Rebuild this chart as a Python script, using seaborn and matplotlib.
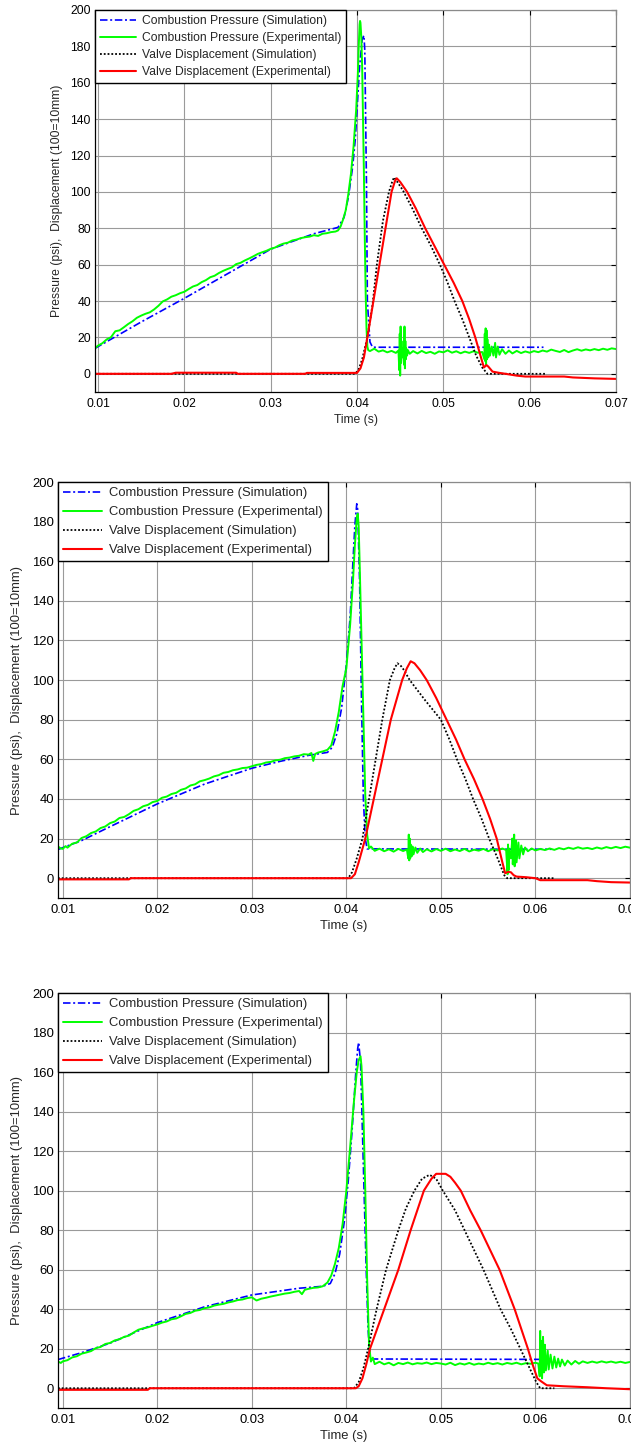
import matplotlib
matplotlib.use("Agg")
import matplotlib.pyplot as plt
import seaborn as sns

# ---------------------------------------------------------------------------
# Run 1
# ---------------------------------------------------------------------------
cp_sim_t1 = [0.00965, 0.0150, 0.0200, 0.0250, 0.0300, 0.0350, 0.0378, 0.0385, 0.0390, 0.0395,
             0.0398, 0.0400, 0.0403, 0.0406, 0.0408, 0.0409, 0.0411, 0.0412, 0.0415, 0.0418, 0.0616]
cp_sim1 = [14.0, 28.5, 41.5, 55.0, 68.5, 77.0, 80.5, 86.0, 97.0, 114.0,
           129.0, 145.0, 169.0, 184.0, 186.0, 178.0, 103.0, 40.0, 17.5, 14.6, 14.6]

cp_exp_t1 = [0.0097, 0.0100, 0.0105, 0.0110, 0.0115, 0.0120, 0.0125, 0.0130, 0.0135, 0.0140,
             0.0145, 0.0150, 0.0155, 0.0160, 0.0165, 0.0170, 0.0175, 0.0180, 0.0185, 0.0190,
             0.0195, 0.0200, 0.0205, 0.0210, 0.0215, 0.0220, 0.0225, 0.0230, 0.0235, 0.0240,
             0.0245, 0.0250, 0.0255, 0.0260, 0.0265, 0.0270, 0.0275, 0.0280, 0.0285, 0.0290,
             0.0295, 0.0300, 0.0305, 0.0310, 0.0315, 0.0320, 0.0325, 0.0330, 0.0335, 0.0340,
             0.0345, 0.0350, 0.0355, 0.0360, 0.0365, 0.0370, 0.0375, 0.0378,
             0.0381, 0.0384, 0.0387, 0.0390, 0.0393, 0.0396, 0.0399, 0.0401, 0.0402, 0.0403,
             0.04035, 0.0404, 0.0405, 0.0406, 0.0407, 0.0408, 0.0409, 0.0410, 0.0411, 0.0412,
             0.0413, 0.0415, 0.0420, 0.0425, 0.0430, 0.0435, 0.0440, 0.0445, 0.0448,
             0.04490, 0.04495, 0.04500, 0.04505, 0.04510, 0.04515, 0.04520, 0.04530,
             0.04545, 0.04550, 0.04555, 0.04560, 0.04565, 0.04570, 0.04580, 0.04590, 0.04610,
             0.0465, 0.0470, 0.0475, 0.0480, 0.0485, 0.0490, 0.0495, 0.0500, 0.0505, 0.0510,
             0.0515, 0.0520, 0.0525, 0.0530, 0.0535, 0.0540, 0.0545,
             0.05475, 0.05480, 0.05485, 0.05490, 0.05495, 0.05500, 0.05505, 0.05510, 0.05520,
             0.05530, 0.05540, 0.05560, 0.05580, 0.05600, 0.05610, 0.05630, 0.05650, 0.05680,
             0.0572, 0.0576, 0.0580, 0.0585, 0.0590, 0.0595, 0.0600, 0.0605, 0.0610, 0.0615,
             0.0620, 0.0625, 0.0630, 0.0635, 0.0640, 0.0645, 0.0650, 0.0655, 0.0660, 0.0665,
             0.0670, 0.0675, 0.0680, 0.0685, 0.0690, 0.0695, 0.0700]
cp_exp1 = [14.3, 15.5, 16.8, 18.9, 20.1, 23.4, 23.9, 25.6, 27.4, 28.9,
           30.8, 32.0, 33.0, 33.8, 35.4, 37.4, 39.8, 40.9, 42.4, 43.2,
           44.3, 45.1, 46.6, 48.0, 48.8, 50.4, 51.5, 53.1, 53.9, 55.4,
           56.6, 57.6, 58.5, 60.3, 61.0, 62.3, 63.4, 64.6, 65.9, 66.8,
           67.6, 68.7, 69.4, 70.7, 71.6, 72.1, 73.3, 73.8, 74.6, 75.1,
           75.4, 76.2, 75.8, 77.0, 77.3, 77.9, 78.2, 78.8,
           81.0, 85.0, 90.0, 99.0, 110.0, 125.0, 145.0, 165.0, 180.0, 192.0,
           194.0, 193.0, 185.0, 168.0, 140.0, 110.0, 75.0, 45.0, 25.0, 15.0,
           13.0, 12.5, 13.8, 12.2, 12.9, 11.8, 12.6, 11.5, 12.8,
           2.0, 22.0, -1.0, 26.0, 6.0, 18.0, 9.0, 14.0,
           5.0, 26.0, 3.0, 18.0, 8.0, 14.0, 10.0, 13.0, 11.0,
           12.5, 11.2, 12.6, 11.4, 12.1, 11.0, 12.3, 11.8, 12.9, 11.6,
           12.4, 11.3, 12.2, 11.5, 12.4, 11.6, 12.0,
           8.0, 22.0, 7.0, 25.0, 5.0, 24.0, 8.0, 19.0, 9.0,
           16.0, 10.0, 15.0, 10.0, 17.0, 9.0, 15.0, 10.5, 13.5,
           11.0, 12.8, 11.2, 12.6, 11.4, 12.3, 11.6, 12.5, 11.9, 12.8,
           12.2, 13.3, 12.6, 12.0, 13.1, 11.9, 12.8, 13.5, 12.7, 13.4,
           12.9, 13.6, 13.0, 13.8, 13.2, 14.0, 13.6]

vd_sim_t1 = [0.00965, 0.0398, 0.0402, 0.0406, 0.0412, 0.0418, 0.0423, 0.0430, 0.0437, 0.0441,
             0.0443, 0.0446, 0.0453, 0.0464, 0.0475, 0.0486, 0.0496, 0.0505, 0.0513, 0.0522,
             0.0530, 0.0538, 0.0545, 0.0551, 0.0620]
vd_sim1 = [0.0, 0.0, 2.5, 8.0, 20.0, 38.0, 60.0, 84.0, 100.0, 106.0,
           108.0, 106.0, 101.0, 91.0, 80.0, 70.0, 60.0, 50.0, 40.0, 30.0,
           20.0, 10.0, 3.5, 0.0, 0.0]

vd_exp_t1 = [0.00965, 0.0185, 0.0190, 0.0260, 0.0262, 0.0340, 0.0342, 0.0400, 0.0404, 0.0408,
             0.0412, 0.0419, 0.0426, 0.0433, 0.0440, 0.0444, 0.0446, 0.0450, 0.0458, 0.0468,
             0.0479, 0.0490, 0.0501, 0.0512, 0.0522, 0.0530, 0.0537, 0.0543, 0.0547, 0.0550,
             0.0552, 0.0557, 0.0565, 0.0572, 0.0585, 0.0595, 0.0640, 0.0650, 0.0675, 0.0700]
vd_exp1 = [0.0, 0.0, 0.6, 0.6, 0.0, 0.0, 0.5, 0.5, 3.0, 9.0,
           20.0, 40.0, 60.0, 80.0, 100.0, 106.0, 107.5, 105.5, 100.0, 91.0,
           80.0, 70.0, 60.0, 50.0, 40.0, 30.0, 20.0, 10.0, 3.5, 4.8,
           4.0, 1.2, 0.5, 0.0, -1.0, -1.5, -1.5, -2.0, -2.5, -2.8]

# ---------------------------------------------------------------------------
# Run 2
# ---------------------------------------------------------------------------
cp_sim_t2 = [0.0095, 0.0120, 0.0150, 0.0200, 0.0250, 0.0300, 0.0330, 0.0360, 0.0380, 0.0385,
             0.0390, 0.0395, 0.0400, 0.0404, 0.0407, 0.0409, 0.0411, 0.0412, 0.0414, 0.0416,
             0.0418, 0.0420, 0.0422, 0.0617]
cp_sim2 = [14.5, 19.0, 26.0, 37.5, 47.5, 55.5, 59.0, 62.0, 63.5, 66.0,
           73.0, 86.0, 108.0, 132.0, 160.0, 178.0, 189.0, 186.0, 150.0, 90.0,
           40.0, 20.0, 14.8, 14.6]

cp_exp_t2 = [0.0095, 0.0098, 0.0100, 0.0103, 0.0105, 0.0110, 0.0115, 0.0120, 0.0125, 0.0130,
             0.0135, 0.0140, 0.0145, 0.0150, 0.0155, 0.0160, 0.0165, 0.0170, 0.0175, 0.0180,
             0.0185, 0.0190, 0.0195, 0.0200, 0.0205, 0.0210, 0.0215, 0.0220, 0.0225, 0.0230,
             0.0235, 0.0240, 0.0245, 0.0250, 0.0255, 0.0260, 0.0265, 0.0270, 0.0275, 0.0280,
             0.0285, 0.0290, 0.0295, 0.0300, 0.0305, 0.0310, 0.0315, 0.0320, 0.0325, 0.0330,
             0.0335, 0.0340, 0.0345, 0.0350, 0.0355, 0.0360, 0.0363, 0.0365, 0.0367, 0.0370,
             0.0375, 0.0380, 0.0384, 0.0388, 0.0392, 0.0396, 0.0400, 0.0404, 0.0407, 0.0409,
             0.0411, 0.0412, 0.0413, 0.0414, 0.0416, 0.0418, 0.0420, 0.0422, 0.0424,
             0.0426, 0.0430, 0.0435, 0.0440, 0.0445, 0.0450, 0.0455, 0.0460, 0.0464,
             0.04655, 0.04660, 0.04665, 0.04670, 0.04675, 0.04680, 0.04690, 0.04700, 0.04710,
             0.0473, 0.0475, 0.0478, 0.0481, 0.0485, 0.0490, 0.0495, 0.0500, 0.0505, 0.0510,
             0.0515, 0.0520, 0.0525, 0.0530, 0.0535, 0.0540, 0.0545, 0.0550, 0.0555, 0.0560,
             0.0565, 0.0569,
             0.05705, 0.05710, 0.05715, 0.05720, 0.05740, 0.05755, 0.05760, 0.05775, 0.05780,
             0.05795, 0.05800, 0.05820, 0.05830, 0.05850, 0.05870, 0.05890, 0.05920, 0.05960,
             0.0600, 0.0605, 0.0610, 0.0615, 0.0620, 0.0625, 0.0630, 0.0635, 0.0640, 0.0645,
             0.0650, 0.0655, 0.0660, 0.0665, 0.0670, 0.0675, 0.0680, 0.0685, 0.0690, 0.0695,
             0.0700]
cp_exp2 = [16.0, 15.0, 14.8, 16.2, 15.4, 17.4, 18.0, 20.3, 21.2, 22.8,
           23.6, 25.3, 26.1, 27.8, 28.6, 30.4, 30.9, 32.3, 34.0, 34.8,
           36.3, 37.0, 38.4, 39.0, 40.6, 41.2, 42.5, 43.1, 44.6, 45.3,
           46.8, 47.4, 48.9, 49.5, 50.3, 51.4, 52.0, 53.2, 53.6, 54.5,
           54.9, 55.6, 55.8, 56.5, 57.2, 57.6, 58.4, 58.7, 59.5, 59.8,
           60.6, 60.9, 61.5, 61.8, 62.6, 62.4, 63.2, 59.2, 62.7, 63.4,
           64.0, 64.8, 67.0, 74.0, 84.0, 97.0, 106.0, 128.0, 150.0, 168.0,
           182.0, 184.0, 178.0, 160.0, 120.0, 80.0, 42.0, 22.0, 15.0,
           16.0, 13.8, 14.9, 13.6, 14.6, 13.4, 14.8, 13.7, 14.5,
           10.0, 22.0, 9.0, 20.0, 10.0, 17.0, 11.0, 16.0, 12.0,
           15.5, 12.8, 15.0, 13.2, 14.6, 13.5, 14.7, 13.8, 14.9, 13.6,
           14.5, 13.7, 14.8, 13.5, 14.4, 13.9, 14.8, 13.6, 14.7, 14.0,
           15.0, 14.2,
           2.0, 17.0, 4.0, 15.0, 10.0, 20.0, 7.0, 22.0, 6.0,
           19.0, 8.0, 18.0, 10.0, 16.5, 12.0, 15.5, 13.6, 15.0,
           14.0, 14.8, 14.2, 15.0, 14.3, 15.2, 14.6, 15.4, 14.8, 15.6,
           14.9, 15.3, 14.7, 15.5, 14.9, 15.7, 15.1, 15.8, 15.2, 15.9,
           15.4]

vd_sim_t2 = [0.0095, 0.0402, 0.0406, 0.0411, 0.0417, 0.0424, 0.0431, 0.0438, 0.0446, 0.0451,
             0.0454, 0.0458, 0.0461, 0.0467, 0.0483, 0.0500, 0.0509, 0.0517, 0.0526, 0.0534,
             0.0543, 0.0551, 0.0560, 0.0567, 0.0570, 0.0620]
vd_sim2 = [0.0, 0.0, 3.0, 10.0, 20.0, 40.0, 60.0, 80.0, 100.0, 106.0,
           108.5, 107.0, 105.0, 100.0, 90.0, 80.0, 70.0, 60.0, 50.0, 40.0,
           30.0, 20.0, 10.0, 1.5, 0.0, 0.0]

vd_exp_t2 = [0.0095, 0.0170, 0.0172, 0.0405, 0.0409, 0.0413, 0.0420, 0.0429, 0.0438, 0.0447,
             0.0459, 0.0464, 0.0468, 0.0472, 0.0478, 0.0485, 0.0495, 0.0506, 0.0516, 0.0525,
             0.0535, 0.0544, 0.0552, 0.0559, 0.0565, 0.0568, 0.0571, 0.0574, 0.0577, 0.0580,
             0.0590, 0.0600, 0.0605, 0.0655, 0.0665, 0.0680, 0.0700]
vd_exp2 = [-0.6, -0.6, 0.0, 0.0, 2.0, 8.0, 20.0, 40.0, 60.0, 80.0,
           100.0, 106.0, 109.5, 108.5, 105.0, 100.0, 91.0, 80.0, 70.0, 60.0,
           50.0, 40.0, 30.0, 20.0, 8.0, 2.5, 3.2, 3.0, 1.5, 0.8,
           0.5, 0.0, -1.0, -1.0, -1.5, -2.0, -2.2]

# ---------------------------------------------------------------------------
# Run 3
# ---------------------------------------------------------------------------
cp_sim_t3 = [0.0095, 0.0120, 0.0150, 0.0200, 0.0250, 0.0300, 0.0350, 0.0375, 0.0383, 0.0388,
             0.0393, 0.0398, 0.0402, 0.0406, 0.0410, 0.0412, 0.0413, 0.0415, 0.0417, 0.0419,
             0.0421, 0.0423, 0.0425, 0.0604]
cp_sim3 = [14.5, 18.0, 22.8, 33.2, 41.2, 47.2, 50.6, 51.6, 53.0, 58.0,
           68.0, 85.0, 105.0, 130.0, 160.0, 172.0, 175.0, 165.0, 130.0, 95.0,
           60.0, 30.0, 14.8, 14.6]

cp_exp_t3 = [0.0095, 0.0098, 0.0100, 0.0105, 0.0110, 0.0115, 0.0120, 0.0125, 0.0130, 0.0135,
             0.0140, 0.0145, 0.0150, 0.0155, 0.0160, 0.0165, 0.0170, 0.0175, 0.0180, 0.0185,
             0.0190, 0.0195, 0.0200, 0.0205, 0.0210, 0.0215, 0.0220, 0.0225, 0.0230, 0.0235,
             0.0240, 0.0245, 0.0250, 0.0255, 0.0260, 0.0265, 0.0270, 0.0275, 0.0280, 0.0285,
             0.0290, 0.0295, 0.0300, 0.0305, 0.0310, 0.0315, 0.0320, 0.0325, 0.0330, 0.0335,
             0.0340, 0.0345, 0.0350, 0.0353, 0.0356, 0.0360, 0.0365, 0.0370, 0.0375, 0.0380,
             0.0384, 0.0388, 0.0392, 0.0396, 0.0400, 0.0404, 0.0408, 0.0411, 0.0413, 0.0415,
             0.0416, 0.0418, 0.0420, 0.0422, 0.0424, 0.0426,
             0.0428, 0.0430, 0.0435, 0.0440, 0.0445, 0.0450, 0.0455, 0.0460, 0.0465, 0.0470,
             0.0475, 0.0480, 0.0485, 0.0490, 0.0495, 0.0500, 0.0505, 0.0510, 0.0515, 0.0520,
             0.0525, 0.0530, 0.0535, 0.0540, 0.0545, 0.0550, 0.0555, 0.0560, 0.0565, 0.0570,
             0.0575, 0.0580, 0.0585, 0.0590, 0.0595, 0.0600, 0.0603,
             0.06045, 0.06050, 0.06055, 0.06060, 0.06070, 0.06080, 0.06090, 0.06100, 0.06110,
             0.06130, 0.06140, 0.06160, 0.06180, 0.06200, 0.06220, 0.06240, 0.06260, 0.06280,
             0.06310, 0.06340, 0.06380, 0.06420, 0.06460, 0.06500, 0.06550, 0.06600, 0.06650,
             0.0670, 0.0675, 0.0680, 0.0685, 0.0690, 0.0695, 0.0700]
cp_exp3 = [13.5, 12.8, 13.6, 14.2, 15.6, 16.2, 17.5, 18.1, 18.8, 20.3,
           20.9, 22.4, 22.9, 24.2, 24.8, 26.0, 26.6, 28.2, 29.6, 30.3,
           30.8, 31.6, 32.3, 33.2, 33.8, 34.9, 35.3, 36.4, 37.6, 38.1,
           39.2, 39.6, 40.5, 40.9, 41.8, 42.3, 42.7, 43.4, 43.9, 44.6,
           44.9, 45.6, 46.0, 44.4, 45.3, 45.8, 46.4, 46.9, 47.4, 47.9,
           48.2, 48.8, 49.2, 47.6, 49.8, 50.3, 50.8, 51.0, 51.6, 53.5,
           57.0, 63.0, 71.0, 83.0, 100.0, 122.0, 145.0, 160.0, 166.0, 168.0,
           163.0, 140.0, 100.0, 55.0, 22.0, 13.5,
           15.5, 12.2, 13.4, 12.1, 12.9, 11.6, 12.8, 12.2, 13.0, 12.1,
           12.7, 12.4, 13.0, 12.2, 12.8, 12.5, 12.0, 12.9, 11.7, 12.6,
           12.0, 12.8, 11.9, 12.5, 12.1, 12.9, 12.2, 12.7, 12.0, 12.8,
           12.3, 12.9, 12.1, 12.7, 12.4, 12.9, 12.5,
           6.0, 29.0, 8.0, 24.0, 5.0, 26.0, 8.0, 22.0, 9.0,
           19.0, 9.5, 17.0, 10.0, 16.0, 10.5, 15.0, 11.0, 14.5,
           11.5, 14.0, 12.0, 13.8, 12.4, 13.6, 12.8, 13.5, 12.9,
           13.6, 13.0, 13.5, 12.9, 13.4, 12.8, 13.3]

vd_sim_t3 = [0.0095, 0.0408, 0.0413, 0.0418, 0.0423, 0.0432, 0.0442, 0.0455, 0.0463, 0.0472,
             0.0480, 0.0488, 0.0495, 0.0502, 0.0515, 0.0525, 0.0535, 0.0545, 0.0554, 0.0563,
             0.0574, 0.0584, 0.0594, 0.0601, 0.0605, 0.0620]
vd_sim3 = [0.0, 0.0, 3.0, 10.0, 20.0, 40.0, 60.0, 80.0, 91.0, 100.0,
           106.0, 108.0, 106.0, 100.0, 90.0, 80.0, 70.0, 60.0, 50.0, 40.0,
           30.0, 20.0, 10.0, 3.0, 0.0, 0.0]

vd_exp_t3 = [0.0095, 0.0190, 0.0192, 0.0410, 0.0413, 0.0417, 0.0421, 0.0425, 0.0440, 0.0455,
             0.0468, 0.0482, 0.0490, 0.0495, 0.0505, 0.0510, 0.0515, 0.0521, 0.0531, 0.0542,
             0.0552, 0.0562, 0.0570, 0.0578, 0.0585, 0.0592, 0.0597, 0.0602, 0.0606, 0.0612,
             0.0630, 0.0640, 0.0655, 0.0675, 0.0700]
vd_exp3 = [-0.8, -0.8, 0.0, 0.0, 1.0, 5.0, 12.0, 20.0, 40.0, 60.0,
           80.0, 100.0, 106.0, 108.5, 108.5, 107.0, 104.0, 100.0, 90.0, 80.0,
           70.0, 60.0, 50.0, 40.0, 30.0, 20.0, 12.0, 5.0, 3.5, 1.5,
           1.0, 0.8, 0.5, 0.0, -0.5]

# Shared axis content
series_labels = ["Combustion Pressure (Simulation)", "Combustion Pressure (Experimental)",
                 "Valve Displacement (Simulation)", "Valve Displacement (Experimental)"]
x_ticks = [0.01, 0.02, 0.03, 0.04, 0.05, 0.06, 0.07]
x_tick_labels = ["0.01", "0.02", "0.03", "0.04", "0.05", "0.06", "0.07"]
y_ticks = [0, 20, 40, 60, 80, 100, 120, 140, 160, 180, 200]
x_label = "Time (s)"
y_label = "Pressure (psi),  Displacement (100=10mm)"

# ---------------------------------------------------------------------------
# Styling
# ---------------------------------------------------------------------------
sns.set_style("white")
plt.rcParams["font.family"] = ["Liberation Sans", "DejaVu Sans"]

line_styles = [
    dict(color="#0000FF", lw=1.2, linestyle=(0, (4.5, 1.6, 1.2, 1.6))),
    dict(color="#00FF00", lw=1.4, linestyle="-"),
    dict(color="#000000", lw=1.3, linestyle=(0, (1.0, 1.1))),
    dict(color="#FF0000", lw=1.5, linestyle="-"),
]

W, H = 631, 1448
fig = plt.figure(figsize=(W / 100, H / 100), dpi=100)

# (left px, top px, right px, bottom px, x-min, font size, y-label centre px, legend row gap)
panel_boxes = [
    (95, 10, 616, 392, 0.00965, 8.7, 57, 0.42),
    (58, 482, 630, 898, 0.0095, 9.4, 17, 0.52),
    (58, 993, 630, 1408, 0.0095, 9.4, 17, 0.52),
]
panel_series = [
    [(cp_sim_t1, cp_sim1), (cp_exp_t1, cp_exp1), (vd_sim_t1, vd_sim1), (vd_exp_t1, vd_exp1)],
    [(cp_sim_t2, cp_sim2), (cp_exp_t2, cp_exp2), (vd_sim_t2, vd_sim2), (vd_exp_t2, vd_exp2)],
    [(cp_sim_t3, cp_sim3), (cp_exp_t3, cp_exp3), (vd_sim_t3, vd_sim3), (vd_exp_t3, vd_exp3)],
]

for (l, t, r, b, xmin, fs, ylab_px, row_gap), series in zip(panel_boxes, panel_series):
    ax = fig.add_axes([l / W, 1 - b / H, (r - l) / W, (b - t) / H])
    for (xs, ys), style, label in zip(series, line_styles, series_labels):
        sns.lineplot(x=xs, y=ys, ax=ax, sort=False, estimator=None,
                     label=label, **style)

    ax.set_xlim(xmin, 0.07)
    ax.set_ylim(-10, 200)
    ax.set_xticks(x_ticks)
    ax.set_xticklabels(x_tick_labels)
    ax.set_yticks(y_ticks)
    ax.set_yticklabels([str(v) for v in y_ticks])

    ax.grid(True, color="#9a9a9a", lw=0.8, ls="-")
    ax.set_axisbelow(True)
    for side in ("left", "bottom"):
        ax.spines[side].set_color("#000000")
        ax.spines[side].set_linewidth(0.9)
    for side in ("top", "right"):
        ax.spines[side].set_color("#8a8a8a")
        ax.spines[side].set_linewidth(0.9)

    ax.tick_params(direction="in", length=3.5, width=0.8, top=True, right=True,
                   labelsize=fs, colors="#000000")
    ax.tick_params(axis="x", pad=4.5)
    ax.tick_params(axis="y", pad=3.0)

    ax.set_xlabel(x_label, fontsize=fs, labelpad=3)
    ax.set_ylabel(y_label, fontsize=fs, va="center")
    ax.yaxis.set_label_coords((ylab_px - l) / (r - l), 0.5)

    leg = ax.legend(loc="upper left", bbox_to_anchor=(0, 1), borderaxespad=0,
                    fontsize=fs, handlelength=3.0, handletextpad=0.5,
                    borderpad=0.4, labelspacing=row_gap, fancybox=False,
                    framealpha=1.0, edgecolor="#000000")
    leg.get_frame().set_linewidth(1.0)

fig.savefig("out.png", dpi=100)
